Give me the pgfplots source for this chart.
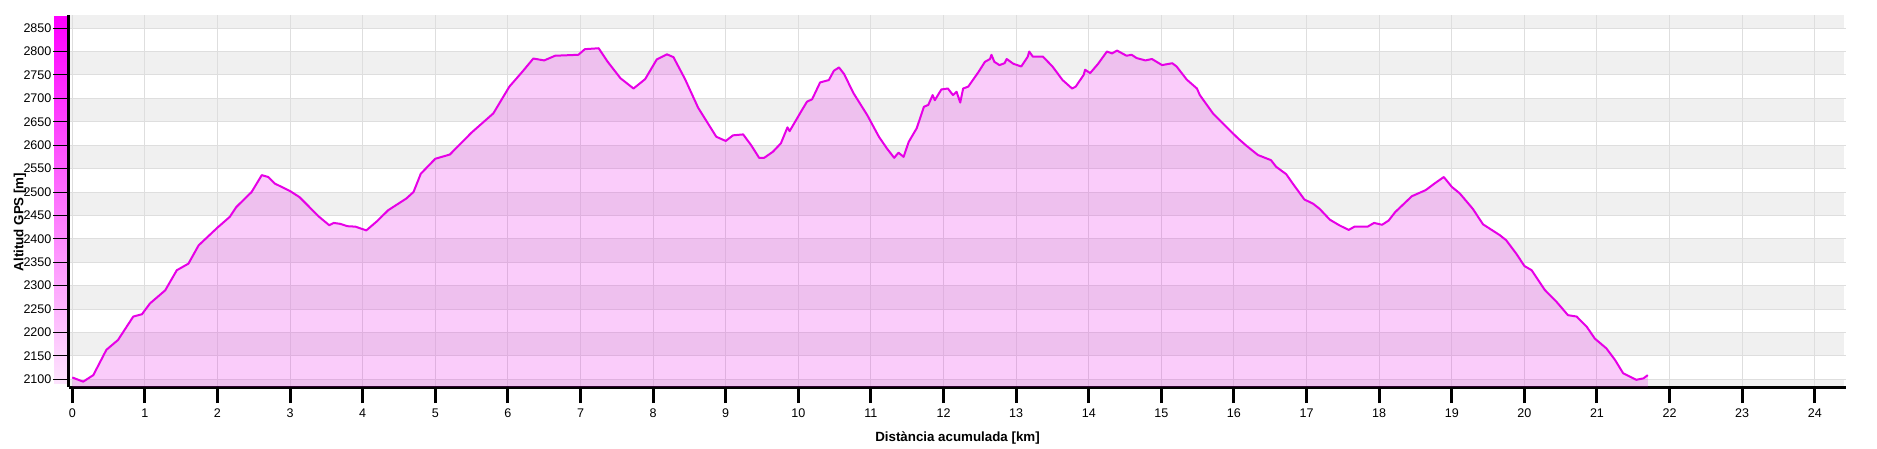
\documentclass[border=0pt]{standalone}
\usepackage{pgfplots}
\pgfplotsset{compat=1.18}
\usepackage{pgfplotstable}
\usepackage{fontspec}
\setmainfont{Liberation Sans}

\definecolor{lineMag}{RGB}{230,0,230}
\definecolor{bandGrey}{RGB}{240,240,240}
\definecolor{gridGrey}{RGB}{222,222,222}
\definecolor{cbTop}{RGB}{255,0,255}
\definecolor{cbBot}{RGB}{253,228,253}

% distancia (km), altitud (m)
\pgfplotstableread{
x y
0 2104
0.15 2095
0.29 2109
0.47 2163
0.63 2184
0.84 2234
0.96 2239
1.07 2262
1.28 2290
1.44 2333
1.60 2347
1.74 2386
2.00 2424
2.17 2447
2.26 2468
2.47 2500
2.61 2536
2.70 2532
2.79 2518
3.00 2502
3.13 2489
3.40 2447
3.54 2429
3.60 2434
3.69 2432
3.79 2427
3.90 2426
4.05 2418
4.20 2438
4.35 2461
4.60 2486
4.70 2500
4.80 2539
5.00 2571
5.20 2580
5.50 2627
5.80 2668
6.02 2725
6.20 2757
6.35 2785
6.50 2781
6.65 2791
6.97 2793
7.06 2805
7.25 2807
7.37 2779
7.55 2743
7.73 2721
7.89 2741
8.05 2783
8.19 2794
8.28 2788
8.44 2741
8.62 2680
8.87 2618
9.00 2609
9.10 2621
9.24 2623
9.35 2600
9.46 2573
9.53 2573
9.65 2586
9.76 2604
9.85 2638
9.88 2630
10.05 2675
10.12 2693
10.19 2698
10.30 2734
10.42 2739
10.49 2759
10.56 2766
10.63 2752
10.76 2711
10.95 2664
11.11 2618
11.22 2593
11.32 2573
11.38 2584
11.45 2575
11.52 2607
11.63 2636
11.73 2682
11.79 2686
11.85 2707
11.88 2696
11.97 2719
12.06 2721
12.13 2707
12.18 2714
12.23 2691
12.27 2721
12.34 2725
12.48 2756
12.57 2778
12.64 2784
12.66 2793
12.70 2778
12.77 2771
12.84 2775
12.87 2784
12.96 2774
13.07 2768
13.16 2789
13.18 2800
13.23 2789
13.37 2789
13.50 2768
13.64 2739
13.77 2721
13.82 2725
13.93 2750
13.95 2761
14.02 2754
14.13 2774
14.25 2800
14.32 2796
14.39 2802
14.52 2791
14.59 2793
14.66 2786
14.78 2781
14.87 2784
15.01 2771
15.15 2775
15.21 2768
15.35 2740
15.49 2721
15.53 2707
15.71 2668
15.94 2632
16.06 2614
16.17 2599
16.33 2579
16.51 2568
16.58 2554
16.72 2538
16.81 2518
16.97 2484
17.09 2475
17.18 2464
17.32 2441
17.45 2429
17.58 2419
17.66 2426
17.84 2426
17.93 2434
18.04 2430
18.13 2439
18.22 2457
18.45 2491
18.64 2504
18.77 2519
18.89 2532
19.00 2511
19.11 2497
19.29 2464
19.43 2431
19.66 2408
19.75 2397
19.89 2368
20.00 2342
20.10 2333
20.28 2291
20.44 2266
20.60 2237
20.72 2234
20.86 2212
20.97 2187
21.13 2166
21.25 2141
21.36 2113
21.54 2099
21.64 2102
21.70 2109
}\profile

\pgfplotsset{
  geom/.style={
    at={(51.75pt,45pt)}, anchor=south west,
    scale only axis,
    width=1332.75pt, height=279pt,
    xmin=-0.045, xmax=24.43,
    ymin=2083.6, ymax=2878,
  },
}

\begin{document}
\begin{tikzpicture}
\path (0,0) rectangle (1407.75pt,335.25pt);

% fons: franges grises
\begin{axis}[geom, name=bg, hide axis]
\fill[bandGrey] (axis cs:-0.045,2850) rectangle (axis cs:24.40,2878);
\fill[bandGrey] (axis cs:-0.045,2750) rectangle (axis cs:24.40,2800);
\fill[bandGrey] (axis cs:-0.045,2650) rectangle (axis cs:24.40,2700);
\fill[bandGrey] (axis cs:-0.045,2550) rectangle (axis cs:24.40,2600);
\fill[bandGrey] (axis cs:-0.045,2450) rectangle (axis cs:24.40,2500);
\fill[bandGrey] (axis cs:-0.045,2350) rectangle (axis cs:24.40,2400);
\fill[bandGrey] (axis cs:-0.045,2250) rectangle (axis cs:24.40,2300);
\fill[bandGrey] (axis cs:-0.045,2150) rectangle (axis cs:24.40,2200);
\fill[bandGrey] (axis cs:-0.045,2083.6) rectangle (axis cs:24.40,2100);
\end{axis}

% barra de color
\fill[top color=cbTop, bottom color=cbBot] ([xshift=-11.25pt,yshift=3pt]bg.south west) rectangle ([yshift=-1.5pt]bg.north west);

\begin{axis}[
    geom,
    xtick={0,1,...,24},
    ytick={2100,2150,...,2850},
    axis x line*=bottom, axis y line*=left,
    axis line style={-, line width=2.25pt, black},
    tick align=outside,
    major tick length=12pt,
    xtick style={line width=2.25pt, black},
    ytick style={line width=0.75pt, black},
    xmajorgrids, ymajorgrids,
    grid style={gridGrey, line width=0.75pt},
    ticklabel style={font=\fontsize{9.4}{11}\selectfont},
    /pgf/number format/assume math mode=true,
    /pgf/number format/set thousands separator={},
    xticklabel style={yshift=-1pt},
    yticklabel style={inner xsep=1pt},
    xlabel={Distància acumulada [km]},
    ylabel={Altitud GPS [m]},
    every axis x label/.style={at={(axis description cs:0.5,0)}, anchor=center, yshift=-38.25pt, font=\bfseries\fontsize{10}{12}\selectfont},
    every axis y label/.style={at={(axis description cs:0,0.4435)}, rotate=90, anchor=center, yshift=36.75pt, font=\bfseries\fontsize{10}{12}\selectfont},
]
\addplot[draw=none, fill=lineMag, fill opacity=0.2] table {\profile} \closedcycle;
\addplot[lineMag, line width=1.5pt, line join=round] table {\profile};
\end{axis}
\end{tikzpicture}
\end{document}
